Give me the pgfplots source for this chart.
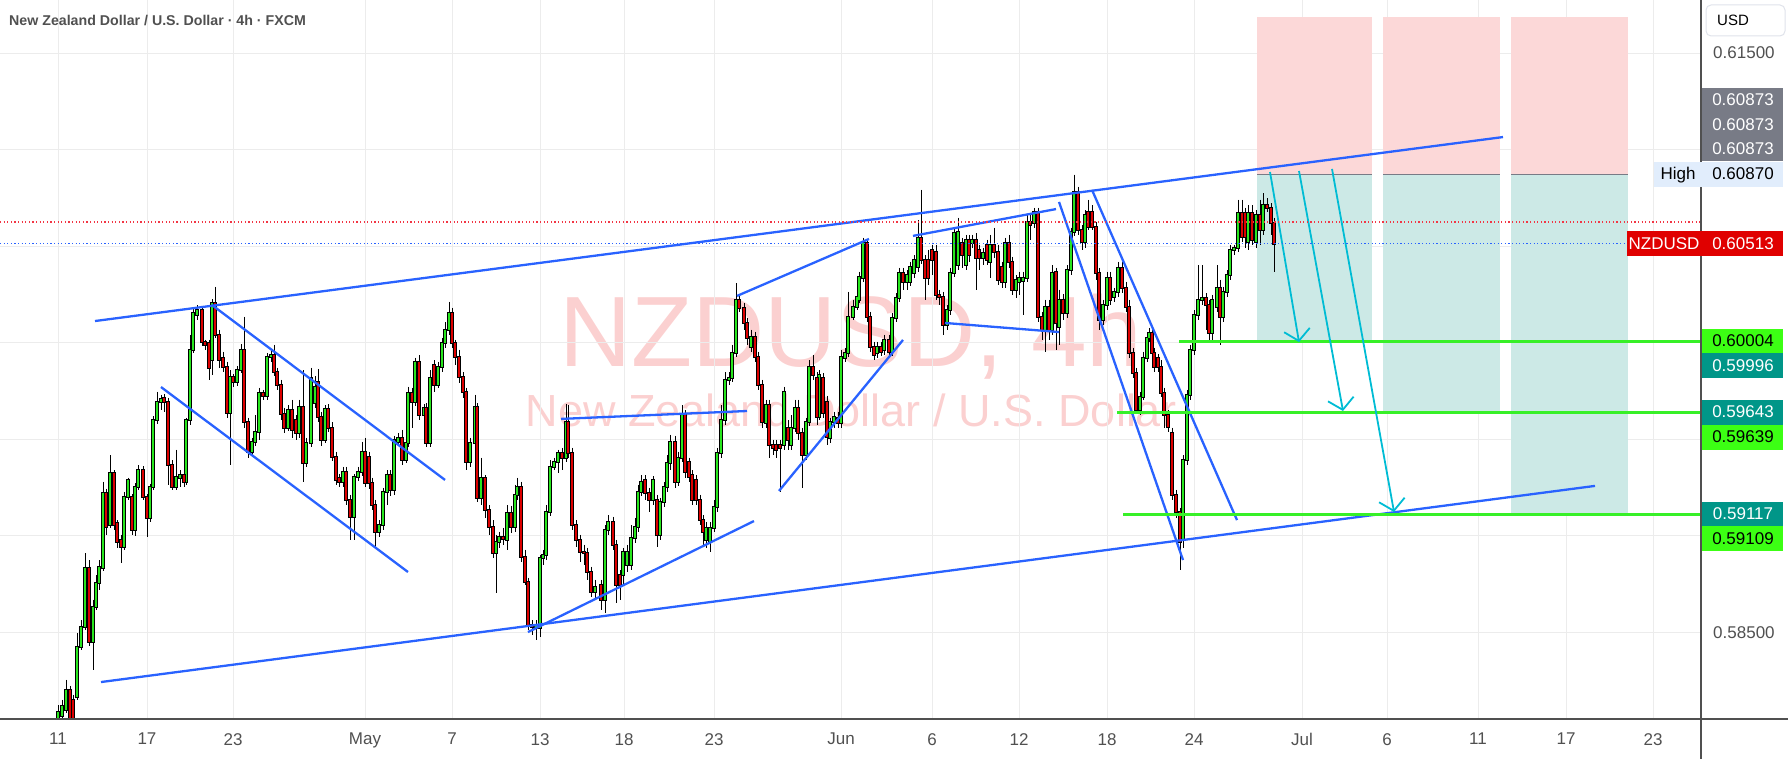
\documentclass[border=0pt]{standalone}
\usepackage{pgfplots}
\pgfplotsset{compat=1.18}
\usepackage{pgfplotstable}
\usepackage{fontspec}
\setmainfont{Liberation Sans}
\usetikzlibrary{arrows.meta}

\definecolor{cgreen}{RGB}{40,230,30}
\definecolor{cred}{RGB}{220,0,0}
\definecolor{tblue}{RGB}{41,98,255}
\definecolor{lgreen}{RGB}{55,240,40}
\definecolor{acyan}{RGB}{0,188,212}
\definecolor{bpink}{RGB}{252,216,216}
\definecolor{bteal}{RGB}{204,233,230}
\definecolor{egray}{RGB}{120,123,134}
\definecolor{lteal}{RGB}{0,150,136}
\definecolor{lgrn}{RGB}{60,255,20}
\definecolor{lred}{RGB}{224,0,0}
\definecolor{hblue}{RGB}{225,237,252}
\definecolor{wm}{RGB}{251,208,208}
\definecolor{txt}{RGB}{80,80,80}
\definecolor{gridc}{RGB}{236,236,236}
\definecolor{dred}{RGB}{242,54,69}
\definecolor{usdb}{RGB}{224,227,235}

\newcommand\lf{\fontsize{17}{20}\selectfont}

\pgfplotstableread{
x o h l c
58 0.57968 0.58123 0.57942 0.58087
62 0.58066 0.58149 0.58035 0.58118
66 0.58097 0.58253 0.58081 0.58201
70 0.58201 0.58222 0.57994 0.58019
73 0.58149 0.58175 0.57968 0.57994
77 0.58165 0.58496 0.58149 0.58424
81 0.58424 0.58563 0.58408 0.58527
85 0.58527 0.58910 0.58512 0.58833
89 0.58833 0.58874 0.58429 0.58450
93 0.58450 0.58667 0.58304 0.58631
96 0.58631 0.58796 0.58615 0.58755
99 0.58755 0.58874 0.58719 0.58838
103 0.58833 0.59279 0.58817 0.59221
106 0.59221 0.59242 0.59004 0.59045
110 0.59055 0.59418 0.59040 0.59324
114 0.59324 0.59340 0.59030 0.59055
117 0.59065 0.59081 0.58937 0.58968
121 0.58978 0.59004 0.58858 0.58942
124 0.58942 0.59227 0.58926 0.59201
128 0.59201 0.59299 0.59185 0.59289
132 0.59201 0.59216 0.59004 0.59030
135 0.59030 0.59273 0.58999 0.59253
138 0.59253 0.59366 0.59237 0.59340
143 0.59340 0.59361 0.59185 0.59201
147 0.59201 0.59216 0.58994 0.59092
150 0.59092 0.59268 0.59071 0.59253
153 0.59253 0.59620 0.59237 0.59599
157 0.59599 0.59745 0.59578 0.59693
161 0.59693 0.59729 0.59651 0.59708
164 0.59714 0.59734 0.59641 0.59693
168 0.59693 0.59714 0.59263 0.59366
172 0.59366 0.59392 0.59237 0.59253
176 0.59253 0.59444 0.59237 0.59304
180 0.59299 0.59340 0.59253 0.59314
184 0.59314 0.59351 0.59253 0.59279
186 0.59279 0.59610 0.59263 0.59599
190 0.59599 0.60040 0.59573 0.59962
193 0.59962 0.60180 0.59946 0.60153
197 0.60143 0.60195 0.60117 0.60169
202 0.60169 0.60190 0.59983 0.60004
205 0.60004 0.60014 0.59962 0.59988
209 0.59998 0.60014 0.59807 0.59869
212 0.59910 0.60226 0.59832 0.60205
215 0.60205 0.60289 0.60025 0.60040
219 0.60040 0.60066 0.59869 0.59910
223 0.59921 0.59952 0.59848 0.59874
227 0.59874 0.59900 0.59610 0.59635
230 0.59635 0.59858 0.59366 0.59822
233 0.59822 0.59837 0.59771 0.59797
237 0.59797 0.59879 0.59776 0.59858
241 0.59858 0.59993 0.59842 0.59962
244 0.59962 0.60133 0.59558 0.59589
248 0.59589 0.59610 0.59403 0.59434
252 0.59434 0.59507 0.59413 0.59486
255 0.59486 0.59625 0.59465 0.59538
259 0.59538 0.59766 0.59496 0.59739
263 0.59739 0.59755 0.59703 0.59724
267 0.59724 0.59946 0.59703 0.59926
271 0.59926 0.59962 0.59900 0.59936
274 0.59936 0.59988 0.59827 0.59848
277 0.59848 0.59869 0.59755 0.59781
281 0.59781 0.59807 0.59599 0.59630
284 0.59630 0.59662 0.59532 0.59558
288 0.59558 0.59677 0.59543 0.59651
292 0.59651 0.59703 0.59507 0.59548
296 0.59599 0.59625 0.59496 0.59532
299 0.59532 0.59703 0.59507 0.59667
303 0.59667 0.59858 0.59279 0.59376
306 0.59376 0.59507 0.59356 0.59480
311 0.59480 0.59869 0.59460 0.59817
315 0.59687 0.59827 0.59662 0.59771
318 0.59797 0.59863 0.59589 0.59615
321 0.59615 0.59641 0.59465 0.59496
325 0.59496 0.59677 0.59480 0.59656
328 0.59656 0.59682 0.59538 0.59558
332 0.59558 0.59589 0.59387 0.59408
336 0.59408 0.59434 0.59263 0.59289
339 0.59299 0.59319 0.59253 0.59279
343 0.59279 0.59356 0.59253 0.59330
346 0.59330 0.59356 0.59159 0.59185
350 0.59185 0.59211 0.58978 0.59097
354 0.59097 0.59319 0.58978 0.59304
358 0.59304 0.59356 0.59284 0.59330
362 0.59330 0.59486 0.59309 0.59434
365 0.59434 0.59507 0.59253 0.59273
369 0.59408 0.59434 0.59242 0.59273
372 0.59273 0.59299 0.59133 0.59159
375 0.59159 0.59185 0.58942 0.59020
379 0.59020 0.59081 0.58994 0.59055
383 0.59055 0.59248 0.59030 0.59227
387 0.59227 0.59340 0.59159 0.59314
390 0.59314 0.59340 0.59206 0.59237
394 0.59237 0.59517 0.59211 0.59496
398 0.59486 0.59532 0.59465 0.59507
402 0.59507 0.59548 0.59366 0.59392
406 0.59392 0.59507 0.59376 0.59480
408 0.59480 0.59771 0.59460 0.59739
412 0.59739 0.59766 0.59558 0.59693
415 0.59693 0.59921 0.59672 0.59900
419 0.59900 0.59936 0.59599 0.59625
424 0.59625 0.59682 0.59599 0.59662
426 0.59662 0.59687 0.59460 0.59480
430 0.59480 0.59858 0.59460 0.59817
434 0.59884 0.59910 0.59745 0.59781
438 0.59781 0.59900 0.59766 0.59874
442 0.59874 0.60025 0.59848 0.59998
445 0.59998 0.60107 0.59973 0.60066
449 0.60066 0.60211 0.60040 0.60153
452 0.60153 0.60180 0.59973 0.59998
455 0.59998 0.60014 0.59884 0.59926
459 0.59926 0.59962 0.59791 0.59822
463 0.59822 0.59848 0.59714 0.59745
466 0.59745 0.59766 0.59340 0.59382
470 0.59382 0.59507 0.59356 0.59480
475 0.59480 0.59729 0.59455 0.59667
477 0.59667 0.59687 0.59175 0.59196
481 0.59196 0.59403 0.59159 0.59299
485 0.59299 0.59314 0.59092 0.59133
489 0.59133 0.59159 0.59004 0.59045
493 0.59045 0.59081 0.58885 0.58910
496 0.58910 0.59004 0.58703 0.58968
499 0.58968 0.59020 0.58937 0.58994
503 0.58994 0.59040 0.58952 0.58983
507 0.58978 0.59159 0.58926 0.59117
511 0.59117 0.59154 0.59014 0.59045
515 0.59045 0.59263 0.59020 0.59211
517 0.59211 0.59299 0.59185 0.59253
521 0.59253 0.59279 0.58864 0.58890
525 0.58890 0.58926 0.58745 0.58761
528 0.58761 0.58781 0.58512 0.58537
532 0.58537 0.58563 0.58486 0.58527
536 0.58522 0.58563 0.58460 0.58537
540 0.58522 0.58900 0.58476 0.58885
543 0.58885 0.58926 0.58848 0.58900
546 0.58900 0.59159 0.58874 0.59123
550 0.59123 0.59392 0.59102 0.59356
554 0.59356 0.59403 0.59340 0.59382
558 0.59382 0.59444 0.59324 0.59428
562 0.59428 0.59455 0.59340 0.59403
566 0.59403 0.59682 0.59382 0.59589
568 0.59589 0.59677 0.59403 0.59428
572 0.59428 0.59455 0.59030 0.59055
576 0.59055 0.59081 0.58942 0.58978
580 0.58978 0.59004 0.58864 0.58916
584 0.58916 0.58952 0.58848 0.58910
587 0.58910 0.58937 0.58771 0.58812
591 0.58812 0.58838 0.58683 0.58709
595 0.58709 0.58771 0.58667 0.58735
601 0.58745 0.58771 0.58615 0.58667
605 0.58667 0.59055 0.58599 0.59030
608 0.59030 0.59107 0.59004 0.59071
613 0.59071 0.59097 0.58926 0.58952
616 0.58952 0.58978 0.58651 0.58745
620 0.58796 0.58822 0.58667 0.58745
623 0.58796 0.58937 0.58745 0.58916
627 0.58848 0.58952 0.58812 0.58916
631 0.58848 0.59055 0.58822 0.58989
635 0.58989 0.59092 0.58962 0.59045
638 0.59045 0.59263 0.59020 0.59227
641 0.59227 0.59314 0.59206 0.59279
645 0.59289 0.59314 0.59185 0.59221
649 0.59221 0.59248 0.59123 0.59185
653 0.59185 0.59309 0.59159 0.59289
657 0.59185 0.59211 0.58942 0.59004
660 0.59004 0.59196 0.58978 0.59175
664 0.59175 0.59279 0.59149 0.59253
667 0.59253 0.59418 0.59227 0.59376
670 0.59376 0.59522 0.59340 0.59486
675 0.59486 0.59517 0.59248 0.59279
678 0.59279 0.59434 0.59258 0.59403
682 0.59403 0.59677 0.59382 0.59625
685 0.59625 0.59651 0.59299 0.59330
689 0.59382 0.59403 0.59279 0.59304
692 0.59314 0.59340 0.59159 0.59185
696 0.59289 0.59314 0.59159 0.59185
700 0.59185 0.59211 0.59055 0.59081
703 0.59081 0.59107 0.58952 0.59020
706 0.58978 0.59071 0.58937 0.59040
710 0.58968 0.59071 0.58916 0.59040
714 0.59040 0.59185 0.59020 0.59149
717 0.59149 0.59455 0.59123 0.59428
721 0.59428 0.59677 0.59403 0.59599
725 0.59599 0.59848 0.59573 0.59807
729 0.59807 0.59848 0.59781 0.59817
732 0.59817 0.59988 0.59797 0.59946
736 0.59946 0.60309 0.59926 0.60221
739 0.60221 0.60242 0.60159 0.60180
744 0.60180 0.60205 0.60066 0.60101
747 0.60101 0.60128 0.59988 0.60025
751 0.59978 0.60066 0.59952 0.60030
755 0.60030 0.60056 0.59900 0.59926
758 0.59926 0.59952 0.59755 0.59781
762 0.59781 0.59807 0.59558 0.59589
766 0.59583 0.59703 0.59558 0.59677
769 0.59677 0.59703 0.59403 0.59470
773 0.59470 0.59496 0.59418 0.59455
776 0.59470 0.59496 0.59403 0.59444
780 0.59470 0.59496 0.59227 0.59455
784 0.59470 0.59771 0.59444 0.59745
788 0.59558 0.59599 0.59444 0.59496
791 0.59470 0.59625 0.59444 0.59558
795 0.59558 0.59703 0.59538 0.59662
798 0.59662 0.59703 0.59496 0.59532
802 0.59532 0.59558 0.59248 0.59418
806 0.59418 0.59610 0.59392 0.59589
809 0.59589 0.59910 0.59568 0.59874
813 0.59874 0.59936 0.59807 0.59832
817 0.59817 0.59848 0.59573 0.59615
819 0.59615 0.59858 0.59599 0.59832
823 0.59817 0.59842 0.59610 0.59635
827 0.59693 0.59724 0.59470 0.59512
830 0.59507 0.59610 0.59480 0.59589
834 0.59589 0.59641 0.59558 0.59615
838 0.59610 0.59641 0.59558 0.59583
841 0.59583 0.59962 0.59558 0.59926
845 0.59921 0.59973 0.59900 0.59946
848 0.59946 0.60263 0.59926 0.60133
853 0.60133 0.60221 0.60117 0.60185
857 0.60185 0.60263 0.60169 0.60237
859 0.60221 0.60366 0.60205 0.60340
863 0.60335 0.60543 0.60315 0.60516
867 0.60516 0.60532 0.60107 0.60133
870 0.60133 0.60159 0.59952 0.59978
874 0.59978 0.60004 0.59910 0.59936
877 0.59946 0.60004 0.59921 0.59978
881 0.59978 0.60004 0.59931 0.59952
884 0.59962 0.60040 0.59936 0.60014
889 0.60014 0.60040 0.59926 0.59952
892 0.59952 0.60153 0.59931 0.60128
896 0.60128 0.60257 0.60107 0.60232
899 0.60232 0.60387 0.60211 0.60360
903 0.60360 0.60387 0.60273 0.60315
907 0.60315 0.60376 0.60273 0.60350
910 0.60315 0.60418 0.60294 0.60392
914 0.60360 0.60454 0.60335 0.60428
918 0.60392 0.60635 0.60366 0.60543
921 0.60543 0.60791 0.60407 0.60428
925 0.60428 0.60454 0.60221 0.60335
928 0.60428 0.60480 0.60299 0.60335
932 0.60480 0.60506 0.60350 0.60428
936 0.60470 0.60506 0.60221 0.60247
939 0.60247 0.60273 0.60195 0.60237
943 0.60237 0.60263 0.60040 0.60091
947 0.60091 0.60195 0.60066 0.60169
950 0.60169 0.60387 0.60143 0.60360
954 0.60360 0.60594 0.60340 0.60568
958 0.60402 0.60646 0.60376 0.60574
962 0.60516 0.60543 0.60387 0.60454
966 0.60402 0.60558 0.60376 0.60532
969 0.60532 0.60558 0.60418 0.60454
972 0.60516 0.60558 0.60491 0.60532
976 0.60532 0.60568 0.60273 0.60439
979 0.60480 0.60506 0.60376 0.60439
983 0.60439 0.60491 0.60402 0.60464
987 0.60506 0.60532 0.60402 0.60428
990 0.60418 0.60558 0.60335 0.60506
994 0.60506 0.60594 0.60439 0.60470
998 0.60470 0.60506 0.60299 0.60325
1002 0.60392 0.60418 0.60284 0.60315
1005 0.60315 0.60543 0.60284 0.60516
1009 0.60516 0.60558 0.60387 0.60418
1012 0.60418 0.60444 0.60247 0.60273
1016 0.60273 0.60350 0.60232 0.60325
1019 0.60315 0.60366 0.60247 0.60335
1023 0.60320 0.60366 0.60143 0.60335
1027 0.60335 0.60661 0.60315 0.60625
1030 0.60625 0.60661 0.60532 0.60609
1034 0.60619 0.60698 0.60594 0.60677
1038 0.60677 0.60698 0.60107 0.60133
1042 0.60133 0.60159 0.60014 0.60066
1045 0.60066 0.60221 0.59952 0.60185
1049 0.60185 0.60221 0.60014 0.60066
1052 0.60066 0.60402 0.60040 0.60360
1056 0.60366 0.60387 0.59962 0.60101
1059 0.60081 0.60273 0.59988 0.60221
1063 0.60221 0.60252 0.60117 0.60153
1067 0.60153 0.60402 0.60128 0.60376
1071 0.60376 0.60594 0.60350 0.60574
1074 0.60574 0.60870 0.60553 0.60781
1078 0.60781 0.60807 0.60558 0.60584
1082 0.60584 0.60609 0.60480 0.60522
1085 0.60522 0.60687 0.60491 0.60661
1088 0.60677 0.60739 0.60584 0.60599
1092 0.60677 0.60713 0.60584 0.60599
1096 0.60599 0.60625 0.60325 0.60360
1099 0.60360 0.60387 0.60066 0.60117
1103 0.60117 0.60221 0.60091 0.60195
1107 0.60195 0.60366 0.60169 0.60335
1110 0.60335 0.60366 0.60195 0.60221
1114 0.60237 0.60284 0.60211 0.60263
1118 0.60263 0.60418 0.60237 0.60387
1122 0.60387 0.60418 0.60257 0.60284
1126 0.60284 0.60315 0.60159 0.60185
1129 0.60185 0.60221 0.59921 0.59946
1133 0.59946 0.59973 0.59817 0.59842
1136 0.59842 0.59869 0.59635 0.59651
1140 0.59651 0.59745 0.59625 0.59719
1143 0.59719 0.59952 0.59703 0.59921
1147 0.59921 0.60050 0.59900 0.60025
1149 0.60025 0.60076 0.60004 0.60050
1152 0.60050 0.60076 0.59926 0.59946
1154 0.59946 0.59973 0.59848 0.59874
1158 0.59921 0.59941 0.59848 0.59874
1161 0.59874 0.59910 0.59719 0.59739
1164 0.59739 0.59766 0.59558 0.59625
1168 0.59625 0.59651 0.59538 0.59563
1172 0.59532 0.59558 0.59185 0.59211
1176 0.59211 0.59237 0.59092 0.59123
1180 0.59123 0.59144 0.58822 0.58968
1183 0.58978 0.59418 0.58937 0.59392
1187 0.59392 0.59755 0.59366 0.59729
1190 0.59729 0.59988 0.59703 0.59962
1194 0.59962 0.60169 0.59936 0.60143
1198 0.60143 0.60402 0.60117 0.60221
1202 0.60221 0.60402 0.60195 0.60232
1206 0.60232 0.60257 0.60066 0.60195
1209 0.60195 0.60221 0.60014 0.60050
1212 0.60050 0.60247 0.60014 0.60221
1217 0.60185 0.60402 0.60159 0.60284
1220 0.60284 0.60325 0.59988 0.60133
1223 0.60133 0.60289 0.60107 0.60263
1227 0.60263 0.60376 0.60237 0.60350
1230 0.60350 0.60506 0.60325 0.60480
1234 0.60480 0.60506 0.60454 0.60491
1238 0.60491 0.60739 0.60470 0.60671
1242 0.60671 0.60739 0.60522 0.60548
1245 0.60671 0.60698 0.60491 0.60548
1248 0.60522 0.60713 0.60480 0.60671
1252 0.60671 0.60713 0.60506 0.60532
1256 0.60522 0.60687 0.60491 0.60661
1260 0.60661 0.60739 0.60506 0.60584
1263 0.60584 0.60775 0.60558 0.60713
1267 0.60713 0.60749 0.60677 0.60698
1271 0.60698 0.60723 0.60558 0.60619
1274 0.60619 0.60646 0.60366 0.60513
}\candles

\begin{document}
\begin{tikzpicture}[x=1pt,y=1pt]
\path[use as bounding box] (0,-40) rectangle (1788,719);
% watermark
\node[anchor=base, inner sep=0pt, text=wm, font=\fontsize{100}{100}\selectfont] at (851,352) {NZDUSD, 4h};
\node[anchor=base, inner sep=0pt, text=wm, font=\fontsize{45}{45}\selectfont] at (851,292) {New Zealand Dollar / U.S. Dollar};

\begin{axis}[
  at={(0pt,0pt)}, anchor=south west,
  scale only axis, width=1701pt, height=719pt,
  xmin=0, xmax=1701, ymin=0.580506, ymax=0.61775,
  clip mode=individual,
  axis line style={draw=none},
  major tick length=0pt,
  scaled x ticks=false, scaled y ticks=false,
  grid=major,
  major grid style={draw=gridc, line width=1pt},
  xtick={58,147,233,365,452,540,624,714,841,932,1019,1107,1194,1302,1387,1478,1566,1653},
  xticklabels={11,17,23,May,7,13,18,23,Jun,6,12,18,24,Jul,6,11,17,23},
  xticklabel style={font=\lf, text=txt, inner sep=0pt, anchor=north, yshift=-14pt},
  ytick={0.585,0.590,0.595,0.600,0.605,0.610,0.615},
  yticklabels={0.58500,,,,,,0.61500},
  yticklabel pos=right,
  yticklabel style={font=\lf, text=txt, inner sep=0pt, anchor=west, xshift=12pt},
  candle/.style={only marks, mark=*, mark size=0pt, mark options={draw=none, fill=none}, forget plot},
]
% position boxes
\addplot[fill=bpink, draw=none, forget plot] coordinates {(1257,0.60873) (1257,0.61687) (1372,0.61687) (1372,0.60873)} -- cycle;
\addplot[fill=bpink, draw=none, forget plot] coordinates {(1383,0.60873) (1383,0.61687) (1500,0.61687) (1500,0.60873)} -- cycle;
\addplot[fill=bpink, draw=none, forget plot] coordinates {(1511,0.60873) (1511,0.61687) (1628,0.61687) (1628,0.60873)} -- cycle;
\addplot[fill=bteal, draw=none, forget plot] coordinates {(1257,0.59996) (1257,0.60873) (1372,0.60873) (1372,0.59996)} -- cycle;
\addplot[fill=bteal, draw=none, forget plot] coordinates {(1383,0.59643) (1383,0.60873) (1500,0.60873) (1500,0.59643)} -- cycle;
\addplot[fill=bteal, draw=none, forget plot] coordinates {(1511,0.59117) (1511,0.60873) (1628,0.60873) (1628,0.59117)} -- cycle;
\addplot[egray, line width=1.2pt, forget plot] coordinates {(1257,0.60873) (1372,0.60873)};
\addplot[egray, line width=1.2pt, forget plot] coordinates {(1383,0.60873) (1500,0.60873)};
\addplot[egray, line width=1.2pt, forget plot] coordinates {(1511,0.60873) (1628,0.60873)};

% candles: wicks
\addplot[candle,
  error bars/.cd, y dir=minus, y explicit, error mark=none,
  error bar style={draw=black, line width=1pt}]
  table[x=x, y=h, y error minus expr=\thisrow{h}-\thisrow{l}] {\candles};
% up bodies
\addplot[candle,
  restrict expr to domain={\thisrow{c}-\thisrow{o}}{0:1},
  error bars/.cd, y dir=minus, y explicit, error mark=none,
  error bar style={draw=black, line width=3.3pt}]
  table[x=x, y expr=\thisrow{c}+0.00005, y error minus expr=\thisrow{c}-\thisrow{o}+0.0001] {\candles};
\addplot[candle,
  restrict expr to domain={\thisrow{c}-\thisrow{o}}{0:1},
  error bars/.cd, y dir=minus, y explicit, error mark=none,
  error bar style={draw=cgreen, line width=1.7pt}]
  table[x=x, y=c, y error minus expr=\thisrow{c}-\thisrow{o}] {\candles};
% down bodies
\addplot[candle,
  restrict expr to domain={\thisrow{c}-\thisrow{o}}{-1:0},
  error bars/.cd, y dir=minus, y explicit, error mark=none,
  error bar style={draw=black, line width=3.3pt}]
  table[x=x, y expr=\thisrow{o}+0.00005, y error minus expr=\thisrow{o}-\thisrow{c}+0.0001] {\candles};
\addplot[candle,
  restrict expr to domain={\thisrow{c}-\thisrow{o}}{-1:0},
  error bars/.cd, y dir=minus, y explicit, error mark=none,
  error bar style={draw=cred, line width=1.7pt}]
  table[x=x, y=o, y error minus expr=\thisrow{o}-\thisrow{c}] {\candles};

% trend lines
\pgfplotsset{trend/.style={tblue, line width=2.3pt, forget plot}}
\addplot[trend] coordinates {(95,0.60112) (1503,0.61065)};
\addplot[trend] coordinates {(101,0.58242) (1595,0.59258)};
\addplot[trend] coordinates {(212,0.60195) (445,0.59289)};
\addplot[trend] coordinates {(161,0.59770) (408,0.58812)};
\addplot[trend] coordinates {(528,0.58501) (754,0.59076)};
\addplot[trend] coordinates {(561,0.59605) (747,0.59646)};
\addplot[trend] coordinates {(779,0.59232) (903,0.60014)};
\addplot[trend] coordinates {(737,0.60242) (869,0.60537)};
\addplot[trend] coordinates {(913,0.60553) (1056,0.60692)};
\addplot[trend] coordinates {(945,0.60102) (1059,0.60055)};
\addplot[trend] coordinates {(1059,0.60729) (1183,0.58874)};
\addplot[trend] coordinates {(1092,0.60791) (1237,0.59081)};

% green levels
\pgfplotsset{lvl/.style={lgreen, line width=2.8pt, forget plot}}
\addplot[lvl] coordinates {(1179,0.60004) (1701,0.60004)};
\addplot[lvl] coordinates {(1117,0.59639) (1701,0.59639)};
\addplot[lvl] coordinates {(1123,0.59109) (1701,0.59109)};

% arrows
\pgfplotsset{arr/.style={acyan, line width=1.8pt, forget plot, -{Straight Barb[length=11pt,width=26pt]}}}
\addplot[arr] coordinates {(1270,0.60884) (1299,0.60003)};
\addplot[arr] coordinates {(1299,0.60889) (1343,0.59646)};
\addplot[arr] coordinates {(1332,0.60900) (1394,0.59123)};

% price lines
\addplot[dred, line width=1.2pt, dash pattern=on 1.2pt off 2.4pt, forget plot] coordinates {(0,0.60625) (1701,0.60625)};
\addplot[tblue, line width=1.2pt, dash pattern=on 1.2pt off 2.4pt, forget plot] coordinates {(0,0.60513) (1627,0.60513)};
\end{axis}

% frame lines
\draw[txt, line width=1.5pt] (0,0) -- (1788,0);
\draw[txt, line width=1.5pt] (1701,-40) -- (1701,719);

% title
\node[anchor=base west, inner sep=0pt, text=txt, font=\bfseries\fontsize{14.2}{17}\selectfont] at (9,693) {New Zealand Dollar / U.S. Dollar · 4h · FXCM};

% USD box
\draw[usdb, fill=white, rounded corners=5pt, line width=1pt] (1706,683) rectangle (1785,714);
\node[anchor=base west, inner sep=0pt, text=black, font=\fontsize{15}{18}\selectfont] at (1717,693) {USD};

% right labels
\fill[egray] (1702,558) rectangle (1783,631);
\node[anchor=base, inner sep=0pt, text=white, font=\lf] at (1743,613) {0.60873};
\node[anchor=base, inner sep=0pt, text=white, font=\lf] at (1743,588) {0.60873};
\node[anchor=base, inner sep=0pt, text=white, font=\lf] at (1743,564) {0.60873};

\fill[hblue] (1654,532) rectangle (1783,557);
\node[anchor=base, inner sep=0pt, text=black, font=\lf] at (1678,539) {High};
\node[anchor=base, inner sep=0pt, text=black, font=\lf] at (1743,539) {0.60870};

\fill[lred] (1627,463) rectangle (1783,488);
\node[anchor=base, inner sep=0pt, text=white, font=\lf] at (1664,469.5) {NZDUSD};
\node[anchor=base, inner sep=0pt, text=white, font=\lf] at (1743,469.5) {0.60513};

\fill[lgrn] (1702,366) rectangle (1783,390);
\node[anchor=base, inner sep=0pt, text=black, font=\lf] at (1743,372) {0.60004};
\fill[lteal] (1702,341) rectangle (1783,366);
\node[anchor=base, inner sep=0pt, text=white, font=\lf] at (1743,347.5) {0.59996};

\fill[lteal] (1702,294) rectangle (1783,319);
\node[anchor=base, inner sep=0pt, text=white, font=\lf] at (1743,301) {0.59643};
\fill[lgrn] (1702,269) rectangle (1783,294);
\node[anchor=base, inner sep=0pt, text=black, font=\lf] at (1743,276) {0.59639};

\fill[lteal] (1702,193) rectangle (1783,217);
\node[anchor=base, inner sep=0pt, text=white, font=\lf] at (1743,199) {0.59117};
\fill[lgrn] (1702,168) rectangle (1783,193);
\node[anchor=base, inner sep=0pt, text=black, font=\lf] at (1743,174) {0.59109};
\end{tikzpicture}
\end{document}
